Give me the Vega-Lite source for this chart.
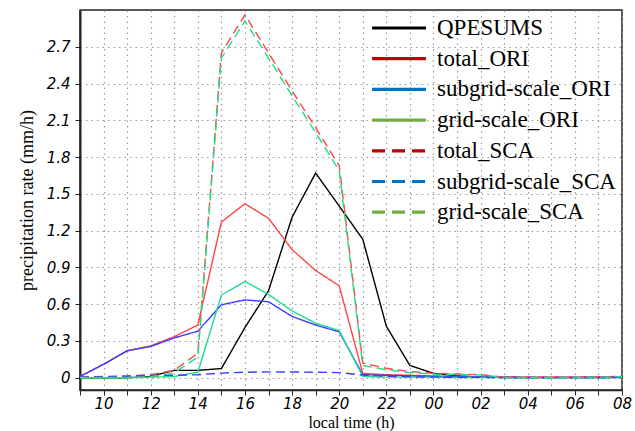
{
  "$schema": "https://vega.github.io/schema/vega-lite/v6.json",
  "autosize": "none",
  "width": 542,
  "height": 380,
  "padding": {"left": 80, "top": 10, "right": 13, "bottom": 41},
  "background": "white",
  "data": {
    "values": [
      {"h": 9, "QPESUMS": 0, "total_ORI": 0.01, "subgrid-scale_ORI": 0.01, "grid-scale_ORI": 0, "total_SCA": 0.005, "subgrid-scale_SCA": 0.005, "grid-scale_SCA": 0},
      {"h": 10, "QPESUMS": 0, "total_ORI": 0.11, "subgrid-scale_ORI": 0.11, "grid-scale_ORI": 0, "total_SCA": 0.01, "subgrid-scale_SCA": 0.008, "grid-scale_SCA": 0.002},
      {"h": 11, "QPESUMS": 0, "total_ORI": 0.22, "subgrid-scale_ORI": 0.22, "grid-scale_ORI": 0, "total_SCA": 0.015, "subgrid-scale_SCA": 0.012, "grid-scale_SCA": 0.003},
      {"h": 12, "QPESUMS": 0.01, "total_ORI": 0.26, "subgrid-scale_ORI": 0.255, "grid-scale_ORI": 0.005, "total_SCA": 0.025, "subgrid-scale_SCA": 0.018, "grid-scale_SCA": 0.008},
      {"h": 13, "QPESUMS": 0.06, "total_ORI": 0.335, "subgrid-scale_ORI": 0.325, "grid-scale_ORI": 0.01, "total_SCA": 0.06, "subgrid-scale_SCA": 0.02, "grid-scale_SCA": 0.04},
      {"h": 14, "QPESUMS": 0.06, "total_ORI": 0.43, "subgrid-scale_ORI": 0.38, "grid-scale_ORI": 0.045, "total_SCA": 0.2, "subgrid-scale_SCA": 0.025, "grid-scale_SCA": 0.17},
      {"h": 15, "QPESUMS": 0.075, "total_ORI": 1.27, "subgrid-scale_ORI": 0.595, "grid-scale_ORI": 0.675, "total_SCA": 2.65, "subgrid-scale_SCA": 0.038, "grid-scale_SCA": 2.61},
      {"h": 16, "QPESUMS": 0.41, "total_ORI": 1.42, "subgrid-scale_ORI": 0.635, "grid-scale_ORI": 0.785, "total_SCA": 2.96, "subgrid-scale_SCA": 0.045, "grid-scale_SCA": 2.91},
      {"h": 17, "QPESUMS": 0.71, "total_ORI": 1.3, "subgrid-scale_ORI": 0.62, "grid-scale_ORI": 0.68, "total_SCA": 2.65, "subgrid-scale_SCA": 0.048, "grid-scale_SCA": 2.61},
      {"h": 18, "QPESUMS": 1.31, "total_ORI": 1.045, "subgrid-scale_ORI": 0.5, "grid-scale_ORI": 0.545, "total_SCA": 2.34, "subgrid-scale_SCA": 0.047, "grid-scale_SCA": 2.3},
      {"h": 19, "QPESUMS": 1.67, "total_ORI": 0.875, "subgrid-scale_ORI": 0.43, "grid-scale_ORI": 0.445, "total_SCA": 2.04, "subgrid-scale_SCA": 0.045, "grid-scale_SCA": 2.0},
      {"h": 20, "QPESUMS": 1.4, "total_ORI": 0.75, "subgrid-scale_ORI": 0.375, "grid-scale_ORI": 0.385, "total_SCA": 1.73, "subgrid-scale_SCA": 0.042, "grid-scale_SCA": 1.69},
      {"h": 21, "QPESUMS": 1.13, "total_ORI": 0.035, "subgrid-scale_ORI": 0.025, "grid-scale_ORI": 0.01, "total_SCA": 0.12, "subgrid-scale_SCA": 0.022, "grid-scale_SCA": 0.1},
      {"h": 22, "QPESUMS": 0.42, "total_ORI": 0.025, "subgrid-scale_ORI": 0.02, "grid-scale_ORI": 0.005, "total_SCA": 0.077, "subgrid-scale_SCA": 0.012, "grid-scale_SCA": 0.065},
      {"h": 23, "QPESUMS": 0.1, "total_ORI": 0.02, "subgrid-scale_ORI": 0.015, "grid-scale_ORI": 0.005, "total_SCA": 0.05, "subgrid-scale_SCA": 0.008, "grid-scale_SCA": 0.042},
      {"h": 24, "QPESUMS": 0.036, "total_ORI": 0.015, "subgrid-scale_ORI": 0.01, "grid-scale_ORI": 0.005, "total_SCA": 0.036, "subgrid-scale_SCA": 0.005, "grid-scale_SCA": 0.031},
      {"h": 25, "QPESUMS": 0.015, "total_ORI": 0.01, "subgrid-scale_ORI": 0.008, "grid-scale_ORI": 0.002, "total_SCA": 0.03, "subgrid-scale_SCA": 0.004, "grid-scale_SCA": 0.026},
      {"h": 26, "QPESUMS": 0.006, "total_ORI": 0.008, "subgrid-scale_ORI": 0.006, "grid-scale_ORI": 0.002, "total_SCA": 0.025, "subgrid-scale_SCA": 0.003, "grid-scale_SCA": 0.022},
      {"h": 27, "QPESUMS": 0.002, "total_ORI": 0.005, "subgrid-scale_ORI": 0.004, "grid-scale_ORI": 0.001, "total_SCA": 0.005, "subgrid-scale_SCA": 0.002, "grid-scale_SCA": 0.003},
      {"h": 28, "QPESUMS": 0.001, "total_ORI": 0.004, "subgrid-scale_ORI": 0.003, "grid-scale_ORI": 0.001, "total_SCA": 0.004, "subgrid-scale_SCA": 0.002, "grid-scale_SCA": 0.002},
      {"h": 29, "QPESUMS": 0.001, "total_ORI": 0.004, "subgrid-scale_ORI": 0.003, "grid-scale_ORI": 0.001, "total_SCA": 0.004, "subgrid-scale_SCA": 0.002, "grid-scale_SCA": 0.002},
      {"h": 30, "QPESUMS": 0.001, "total_ORI": 0.004, "subgrid-scale_ORI": 0.003, "grid-scale_ORI": 0.001, "total_SCA": 0.005, "subgrid-scale_SCA": 0.002, "grid-scale_SCA": 0.003},
      {"h": 31, "QPESUMS": 0.002, "total_ORI": 0.006, "subgrid-scale_ORI": 0.004, "grid-scale_ORI": 0.002, "total_SCA": 0.007, "subgrid-scale_SCA": 0.002, "grid-scale_SCA": 0.005},
      {"h": 32, "QPESUMS": 0.003, "total_ORI": 0.01, "subgrid-scale_ORI": 0.005, "grid-scale_ORI": 0.004, "total_SCA": 0.012, "subgrid-scale_SCA": 0.002, "grid-scale_SCA": 0.008}
    ]
  },
  "transform": [
    {"fold": ["QPESUMS", "total_ORI", "subgrid-scale_ORI", "grid-scale_ORI", "total_SCA", "subgrid-scale_SCA", "grid-scale_SCA"], "as": ["series", "value"]}
  ],
  "encoding": {
    "x": {
      "field": "h", "type": "quantitative",
      "scale": {"domain": [9, 32], "nice": false, "zero": false},
      "axis": {
        "values": [9,10,11,12,13,14,15,16,17,18,19,20,21,22,23,24,25,26,27,28,29,30,31,32],
        "labelExpr": "datum.value % 2 == 0 ? ((datum.value % 24) < 10 ? '0' + (datum.value % 24) : '' + (datum.value % 24)) : ''",
        "title": "local time (h)",
        "titleFont": "Liberation Serif", "titleFontSize": 16, "titleFontWeight": "normal", "titleColor": "black", "titlePadding": 3,
        "labelFont": "DejaVu Sans", "labelFontStyle": "italic", "labelFontSize": 15, "labelColor": "black", "labelPadding": 1,
        "labelFlush": false, "labelOverlap": false,
        "tickSize": 5, "tickColor": "#222", "domainColor": "#222", "domainWidth": 1.5,
        "grid": true, "gridDash": [1.5, 4], "gridColor": "#999", "gridWidth": 1.2
      }
    },
    "y": {
      "field": "value", "type": "quantitative",
      "scale": {"domain": [-0.1, 3.0], "nice": false, "zero": false},
      "axis": {
        "values": [0, 0.3, 0.6, 0.9, 1.2, 1.5, 1.8, 2.1, 2.4, 2.7],
        "labelExpr": "datum.value == 0 ? '0' : format(datum.value, '.1f')",
        "title": "precipitation rate (mm/h)",
        "titleFont": "Liberation Serif", "titleFontSize": 18, "titleFontWeight": "normal", "titleColor": "black", "titlePadding": 10,
        "labelFont": "DejaVu Sans", "labelFontStyle": "italic", "labelFontSize": 15, "labelColor": "black", "labelPadding": 5,
        "tickSize": 5, "tickColor": "#222", "domainColor": "#222", "domainWidth": 2,
        "grid": true, "gridDash": [1.5, 4], "gridColor": "#999", "gridWidth": 1.2
      }
    },
    "order": {"field": "h", "type": "quantitative"}
  },
  "layer": [
    {
      "mark": {"type": "line", "strokeWidth": 1.4, "clip": true},
      "encoding": {
        "color": {
          "field": "series", "type": "nominal",
          "scale": {
            "domain": ["QPESUMS", "total_ORI", "subgrid-scale_ORI", "grid-scale_ORI", "total_SCA", "subgrid-scale_SCA", "grid-scale_SCA"],
            "range": ["#000000", "#ff4545", "#3c3cff", "#20dd8a", "#ff4545", "#3c3cff", "#20dd8a"]
          },
          "legend": null
        },
        "strokeDash": {
          "field": "series", "type": "nominal",
          "scale": {
            "domain": ["QPESUMS", "total_ORI", "subgrid-scale_ORI", "grid-scale_ORI", "total_SCA", "subgrid-scale_SCA", "grid-scale_SCA"],
            "range": [[1, 0], [1, 0], [1, 0], [1, 0], [9, 5], [9, 5], [9, 5]]
          },
          "legend": null
        }
      }
    },
    {
      "transform": [{"filter": "datum.h > 100"}],
      "mark": {"type": "line", "strokeWidth": 3.2, "clip": true},
      "encoding": {
        "color": {
          "field": "series", "type": "nominal",
          "scale": {
            "domain": ["QPESUMS", "total_ORI", "subgrid-scale_ORI", "grid-scale_ORI", "total_SCA", "subgrid-scale_SCA", "grid-scale_SCA"],
            "range": ["#000000", "#c00000", "#0070c0", "#70ad47", "#c00000", "#0070c0", "#70ad47"]
          },
          "legend": {
            "title": null, "orient": "none", "legendX": 290, "legendY": 3,
            "symbolType": "stroke", "symbolSize": 2900, "symbolStrokeWidth": 3.2,
            "labelFont": "Liberation Serif", "labelFontSize": 23, "labelColor": "black", "labelLimit": 300,
            "rowPadding": 0.7, "clipHeight": 30, "labelOffset": 9
          }
        },
        "strokeDash": {
          "field": "series", "type": "nominal",
          "scale": {
            "domain": ["QPESUMS", "total_ORI", "subgrid-scale_ORI", "grid-scale_ORI", "total_SCA", "subgrid-scale_SCA", "grid-scale_SCA"],
            "range": [[1, 0], [1, 0], [1, 0], [1, 0], [13, 7], [13, 7], [13, 7]]
          },
          "legend": {
            "title": null, "orient": "none", "legendX": 290, "legendY": 3,
            "symbolType": "stroke", "symbolSize": 2900, "symbolStrokeWidth": 3.2,
            "labelFont": "Liberation Serif", "labelFontSize": 23, "labelColor": "black", "labelLimit": 300,
            "rowPadding": 0.7, "clipHeight": 30, "labelOffset": 9
          }
        }
      }
    }
  ],
  "resolve": {"scale": {"color": "independent", "strokeDash": "independent"}},
  "config": {
    "view": {"stroke": "#222", "strokeWidth": 1.5}
  }
}
